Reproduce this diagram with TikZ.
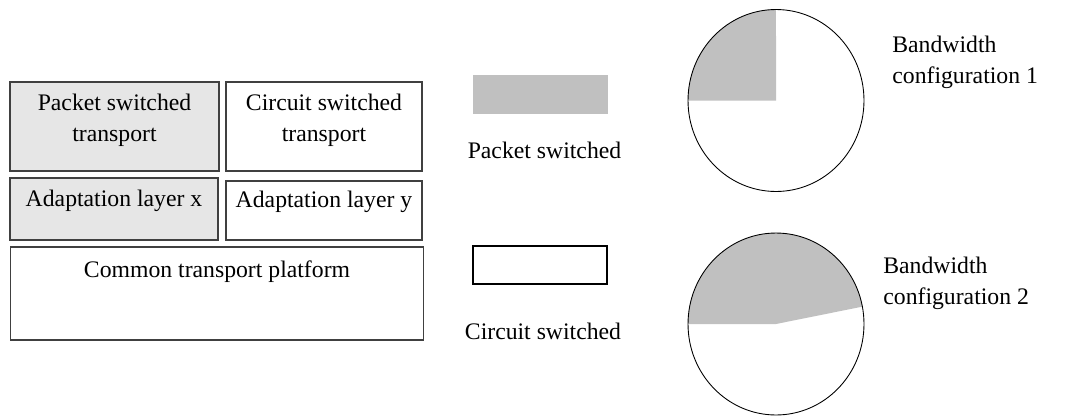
\documentclass[tikz,border=0pt]{standalone}
\usepackage{fontspec}
\setmainfont{Liberation Serif}
\usetikzlibrary{positioning}
\definecolor{edge}{HTML}{404040}
\definecolor{pkt}{HTML}{C0C0C0}
\definecolor{pktlight}{HTML}{E6E6E6}
\tikzset{layer/.style={rectangle,draw=edge,line width=.6pt,inner sep=0pt},
  boxtext/.style={anchor=north,align=center,inner sep=0pt},
  legendbox/.style={rectangle,inner sep=0pt,minimum width=2.7cm,minimum height=.78cm},
  bwtext/.style={anchor=north west,align=left,inner sep=0pt},
  pie/.style={draw=black,line width=.5pt},
  pieradii/.style={x radius=1.76cm,y radius=1.82cm}}
\begin{document}
\begin{tikzpicture}[x=.02cm,y=-.02cm,font=\fontsize{13.5}{17.5}\selectfont]
\useasboundingbox (0,0) rectangle (1081,416);
% protocol stack
\node[layer,fill=pktlight,minimum width=4.18cm,minimum height=1.78cm] (pst) at (114.5,126.5) {};
\node[layer,minimum width=3.92cm,minimum height=1.78cm] (cst) at (324,126.5) {};
\node[layer,fill=pktlight,minimum width=4.16cm,minimum height=1.24cm] (adx) at (114,209) {};
\node[layer,minimum width=3.92cm,minimum height=1.18cm] (ady) at (324,210.5) {};
\node[layer,minimum width=8.28cm,minimum height=1.86cm] (ctp) at (217,293.5) {};
\node[boxtext,below=.25cm of pst.north] (pstx) {Packet switched\\transport};
\node[boxtext,below=.25cm of cst.north] (cstx) {Circuit switched\\transport};
\node[boxtext,below=.24cm of adx.north] (adxx) {Adaptation layer x};
\node[boxtext,below=.2cm of ady.north] (adyx) {Adaptation layer y};
\node[boxtext,below=.28cm of ctp.north] (ctpx) {Common transport platform};
% legend
\node[legendbox,fill=pkt] (pkl) at (540.5,94.5) {};
\node[legendbox,draw=black,line width=.8pt,minimum width=2.68cm,minimum height=.76cm] (ckl) at (540,265) {};
\node[inner sep=0pt,below=.54cm of pkl,xshift=.08cm] (pklx) {Packet switched};
\node[inner sep=0pt,below=.76cm of ckl,xshift=.06cm] (cklx) {Circuit switched};
% bandwidth configurations
\fill[pkt] (776,100.5) -- (688,100.5) arc[start angle=180,end angle=90,pieradii] -- cycle;
\draw[pie] (776,100.5) ellipse[pieradii];
\fill[pkt] (776,324) -- (688,324) arc[start angle=180,end angle=11,pieradii] -- cycle;
\draw[pie] (776,324) ellipse[pieradii];
\node[bwtext] (bwa) at (892,35.7) {Bandwidth\\configuration 1};
\node[bwtext] (bwb) at (883,256.7) {Bandwidth\\configuration 2};
\end{tikzpicture}
\end{document}
